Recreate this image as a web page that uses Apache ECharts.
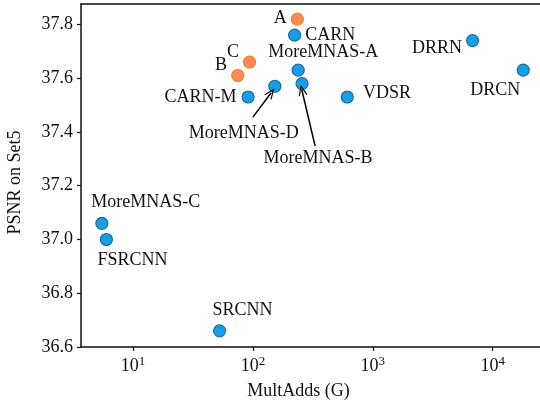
<!DOCTYPE html>
<html>
<head>
<meta charset="utf-8">
<script src="https://cdn.jsdelivr.net/npm/echarts@6/dist/echarts.min.js"></script>
<style>
  html, body { margin: 0; padding: 0; background: #fff; }
  #main { width: 540px; height: 409px; }
</style>
</head>
<body>
<div id="main"></div>
<script>
// data
var names  = ['A', 'B', 'C', 'CARN', 'CARN-M', 'MoreMNAS-A', 'MoreMNAS-B', 'MoreMNAS-C', 'MoreMNAS-D',
              'VDSR', 'DRRN', 'DRCN', 'FSRCNN', 'SRCNN'];
var multAdds = [234.7, 74.7, 93.7, 222.8, 91.2, 238.6, 256.9, 5.5, 152.4, 612.6, 6796.9, 17974.3, 6.0, 52.7];
var psnr     = [37.82, 37.61, 37.66, 37.76, 37.53, 37.63, 37.58, 37.06, 37.57, 37.53, 37.74, 37.63, 37.00, 36.66];
var isOurs   = [1, 1, 1, 0, 0, 0, 0, 0, 0, 0, 0, 0, 0, 0];
var xTicks = [10, 100, 1000, 10000];
var yTicks = [36.6, 36.8, 37.0, 37.2, 37.4, 37.6, 37.8];
// annotation arrows: [from label, to point]
var arrowD = [[100, 37.455], [142, 37.546]];
var arrowB = [[330, 37.348], [256, 37.556]];

var font = 'Liberation Serif';
var fs = 18;

// where each label sits relative to its marker
var labelPos = {
  'A':          { position: 'left',   distance: 4, offset: [0, -1] },
  'CARN':       { position: 'right',  distance: 4, offset: [0, 0] },
  'C':          { position: 'left',   distance: 4, offset: [0, -10] },
  'B':          { position: 'left',   distance: 4, offset: [0, -10] },
  'CARN-M':     { position: 'left',   distance: 5, offset: [0, 0] },
  'MoreMNAS-A': { position: 'top',    distance: 2, offset: [25, 0] },
  'MoreMNAS-D': { position: 'bottom', distance: 5, offset: [-31, 26] },
  'MoreMNAS-B': { position: 'bottom', distance: 5, offset: [16, 54] },
  'VDSR':       { position: 'right',  distance: 9, offset: [0, -4] },
  'DRRN':       { position: 'left',   distance: 4, offset: [0, 8] },
  'DRCN':       { position: 'bottom', distance: 5, offset: [-28, 0] },
  'MoreMNAS-C': { position: 'top',    distance: 5, offset: [44, 0] },
  'FSRCNN':     { position: 'bottom', distance: 5, offset: [26, 0] },
  'SRCNN':      { position: 'top',    distance: 5, offset: [23, 0] }
};

function makeData(flag) {
  var out = [];
  for (var i = 0; i < names.length; i++) {
    if (isOurs[i] !== flag) continue;
    var lp = labelPos[names[i]];
    out.push({
      name: names[i],
      value: [multAdds[i], psnr[i]],
      label: { show: true, position: lp.position, distance: lp.distance, offset: lp.offset }
    });
  }
  return out;
}

var labelStyle = { formatter: '{b}', color: '#111', fontFamily: font, fontSize: fs };
var arrowSym = 'path://M0,10 L5,0 L10,10 L8.6,10 L5,2.6 L1.4,10 Z';

var chart = echarts.init(document.getElementById('main'));
var option = {
  animation: false,
  grid: { left: 81, top: 4, right: 0, bottom: 62, outerBoundsMode: 'none', containLabel: false },
  xAxis: [{
    type: 'log',
    logBase: 10,
    min: 3.684,
    max: 24800,
    name: 'MultAdds (G)',
    nameLocation: 'middle',
    nameGap: 35,
    nameTextStyle: { fontFamily: font, fontSize: fs, color: '#111', padding: [0, 24, 0, 0] },
    axisLine: { lineStyle: { color: '#111', width: 1.5 } },
    axisTick: { customValues: xTicks, length: 4, lineStyle: { color: '#111', width: 1.2 } },
    minorTick: { show: false },
    splitLine: { show: false },
    axisLabel: {
      customValues: xTicks,
      margin: 8,
      fontFamily: font, fontSize: fs, color: '#111',
      formatter: function (v) { return '10{sup|' + Math.round(Math.log10(v)) + '}'; },
      rich: { sup: { fontFamily: font, fontSize: 13, color: '#111', verticalAlign: 'top', padding: [0, 0, 9, 0] } }
    }
  }, {
    type: 'log',
    position: 'top',
    min: 3.684,
    max: 24800,
    axisLine: { lineStyle: { color: '#111', width: 1.5 } },
    axisTick: { show: false },
    axisLabel: { show: false },
    splitLine: { show: false }
  }],
  yAxis: {
    type: 'value',
    min: 36.6,
    max: 37.876,
    name: 'PSNR on Set5',
    nameLocation: 'middle',
    nameGap: 57,
    nameTextStyle: { fontFamily: font, fontSize: fs, color: '#111', padding: [0, 14, 0, 0] },
    axisLine: { show: true, lineStyle: { color: '#111', width: 1.5 } },
    axisTick: { show: true, customValues: yTicks, length: 4, lineStyle: { color: '#111', width: 1.2 } },
    splitLine: { show: false },
    axisLabel: {
      customValues: yTicks,
      margin: 8,
      fontFamily: font, fontSize: fs, color: '#111',
      formatter: function (v) { return v.toFixed(1); }
    }
  },
  series: [
    {
      type: 'scatter',
      symbolSize: 12,
      itemStyle: { color: '#16a0e4', borderColor: '#1f6aa8', borderWidth: 1.2, opacity: 1 },
      label: labelStyle,
      data: makeData(0),
      markLine: {
        silent: true,
        symbol: ['none', arrowSym],
        symbolSize: [9, 11],
        label: { show: false },
        lineStyle: { color: '#000', width: 1.5, type: 'solid' },
        itemStyle: { color: '#000' },
        data: [
          [{ coord: arrowD[0] }, { coord: arrowD[1] }],
          [{ coord: arrowB[0] }, { coord: arrowB[1] }]
        ]
      }
    },
    {
      type: 'scatter',
      symbolSize: 12,
      itemStyle: { color: '#fb8b5a', borderColor: '#f5851f', borderWidth: 1.2, opacity: 1 },
      label: labelStyle,
      data: makeData(1)
    }
  ]
};
chart.setOption(option);
</script>
</body>
</html>
